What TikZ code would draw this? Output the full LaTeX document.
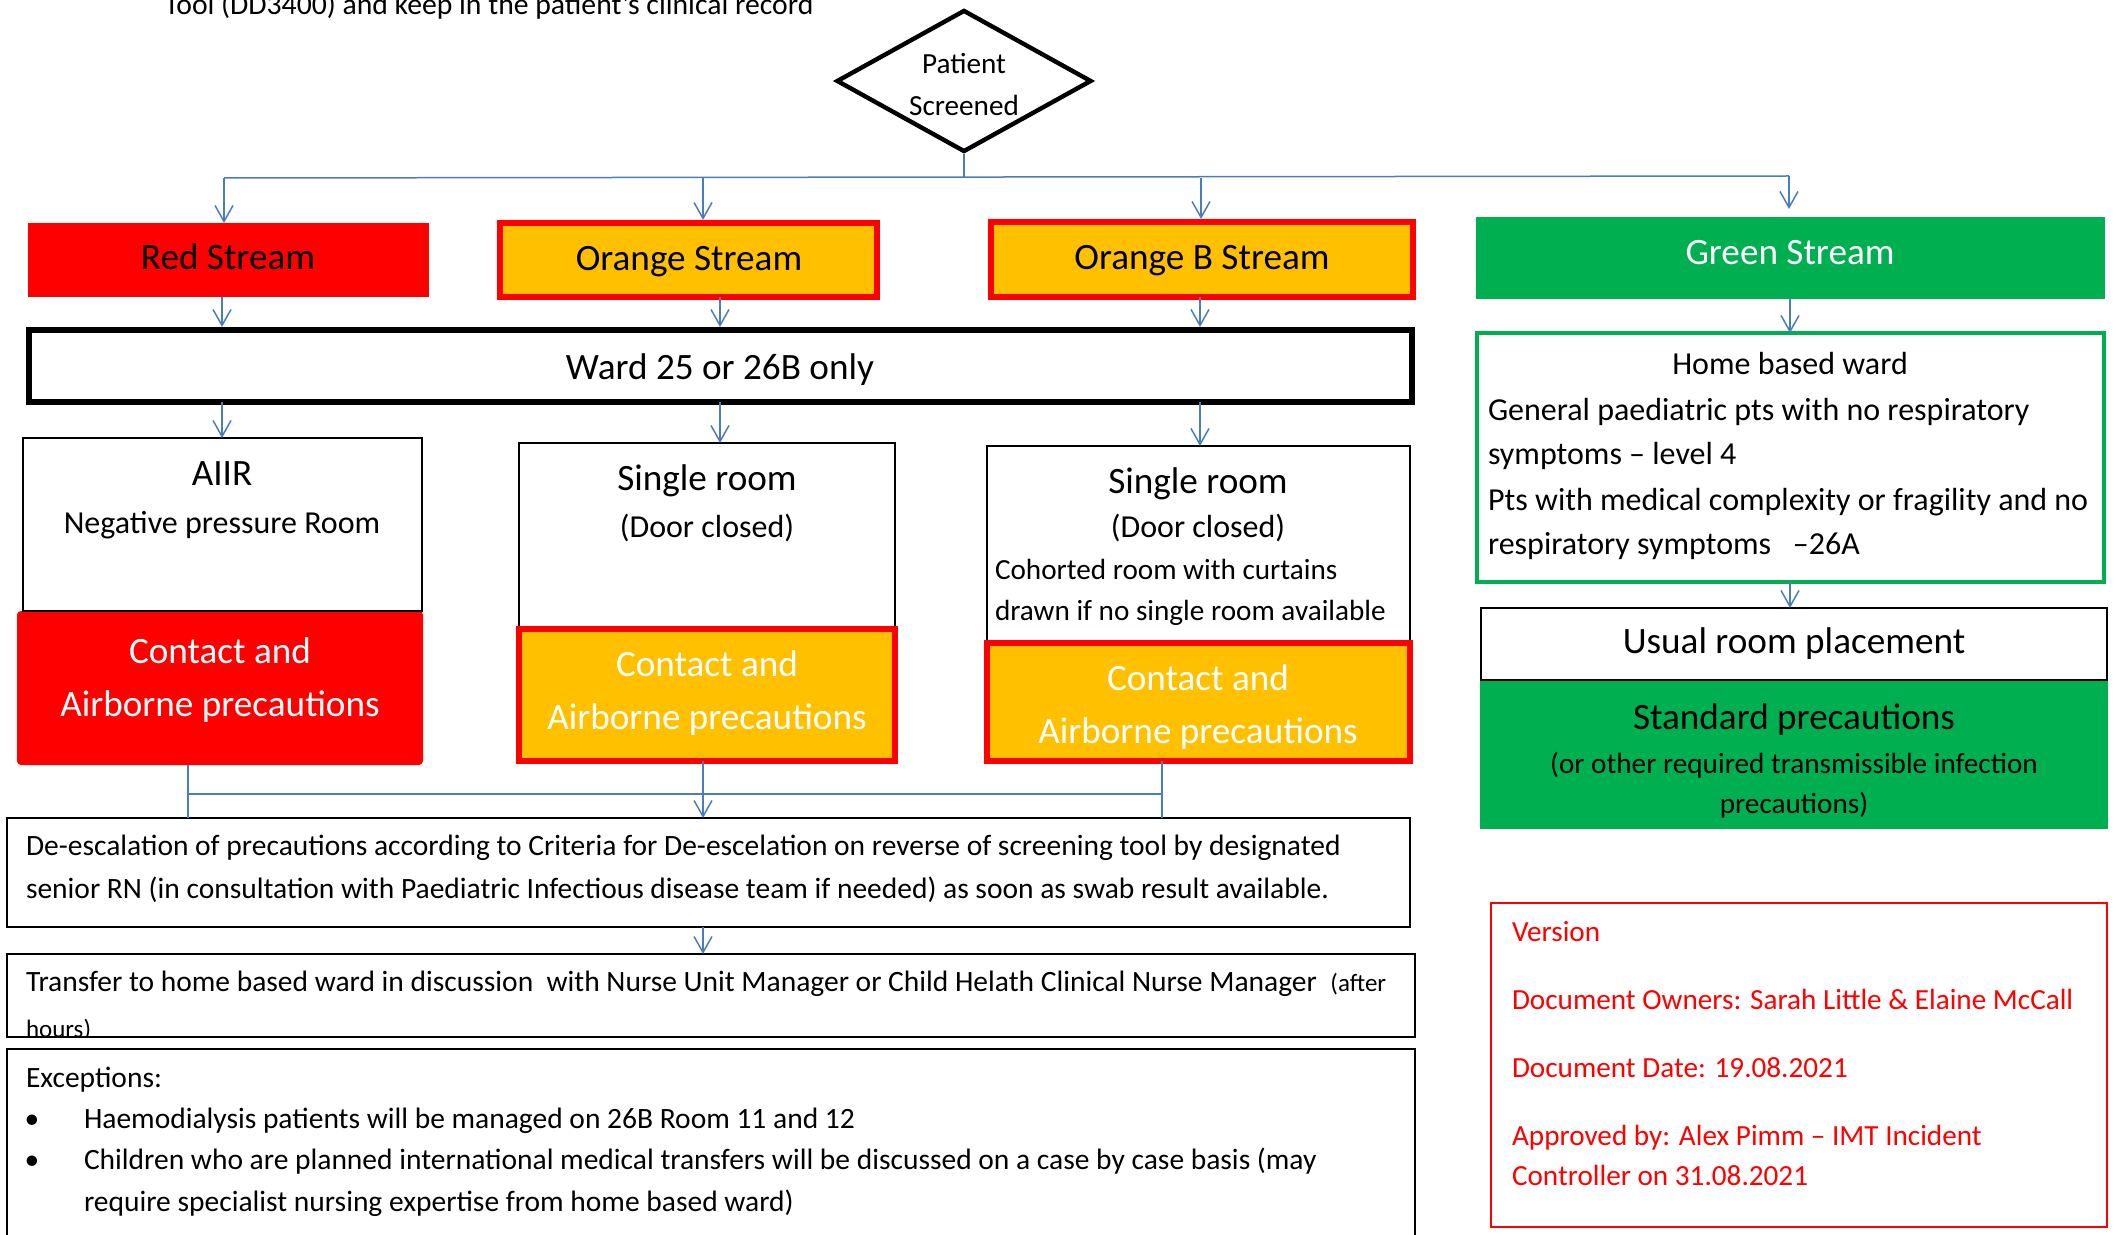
\documentclass[tikz,border=0pt]{standalone}
\usepackage{fontspec}
\setmainfont{Carlito}
\usetikzlibrary{arrows.meta,fit,shapes.geometric}
\definecolor{ored}{HTML}{FF0000}
\definecolor{oorange}{HTML}{FFC000}
\definecolor{ogreen}{HTML}{00B050}
\definecolor{lblue}{HTML}{4A7EBB}
\newcommand\fsL{\fontsize{18.6pt}{22pt}\selectfont}
\newcommand\fsM{\fontsize{16pt}{19pt}\selectfont}
\newcommand\fsS{\fontsize{14.6pt}{17.5pt}\selectfont}
\newcommand\fsW{\fontsize{14.75pt}{17.5pt}\selectfont}
\newcommand\fsT{\fontsize{12.5pt}{15pt}\selectfont}
\begin{document}
\begin{tikzpicture}[x=0.5pt,y=-0.5pt,
  box/.style={rectangle,inner sep=0pt,outer sep=0pt},
  ln/.style={draw=lblue,line width=0.75pt},
  arr/.style={ln,-{Straight Barb[length=8pt,width=9pt]}},
  tc/.style={inner sep=0pt,outer sep=0pt,anchor=base},
  tl/.style={inner sep=0pt,outer sep=0pt,anchor=base west},
  thinbox/.style={box,draw=black,line width=1.2pt},
  orbox/.style={box,fill=oorange,draw=ored,line width=3pt}]
\useasboundingbox (0,0) rectangle (2120,1235);
\fill[white] (0,0) rectangle (2120,1235);

% top text (cut at the top edge, as in the reference)
\node[tc,font=\fontsize{14.85pt}{17.5pt}\selectfont] (tTop) at (489,15) {Tool (DD3400) and keep in the patient’s clinical record};

% diamond
\node[diamond,draw=black,line width=2.2pt,inner sep=0pt,minimum width=127.5pt,minimum height=71pt] (diam) at (964,81) {};
\node[tc,font=\fsS] (tPat) at (964,74) {Patient};
\node[tc,font=\fsS] (tScr) at (964,116) {Screened};

% stream boxes
\node[box,fill=ored,fit={(28,223) (429,297)}] (redS) {};
\node[orbox,fit={(500,223) (877,297)}] (orS) {};
\node[orbox,fit={(991,222) (1413,297)}] (orB) {};
\node[box,fill=ogreen,fit={(1476,217) (2105,299)}] (grS) {};
\node[tc,font=\fsL] (tRedS) at (228,270) {Red Stream};
\node[tc,font=\fsL] (tOrS) at (689,271) {Orange Stream};
\node[tc,font=\fsL] (tOrB) at (1202,270) {Orange B Stream};
\node[tc,font=\fsL,text=white] (tGrS) at (1790,265) {Green Stream};

% ward
\node[box,draw=black,line width=3pt,fit={(29,330) (1412,402)}] (ward) {};
\node[tc,font=\fsL] (tWard) at (720,380) {Ward 25 or 26B only};

% red column
\node[box,fill=ored,rounded corners=2pt,fit={(17,611) (423,765)}] (redC) {};
\node[thinbox,line width=1.3pt,fit={(23,438) (422,611)}] (aiir) {};
\node[tc,font=\fsL] (tAiir) at (222,486) {AIIR};
\node[tc,font=\fsM] (tNeg) at (222,533) {Negative pressure Room};
\node[tc,font=\fsL,text=white] (tRc1) at (220,663) {Contact and};
\node[tc,font=\fsL,text=white] (tRc2) at (220,716) {Airborne precautions};

% orange column
\node[thinbox,fit={(519,443) (895,627)}] (sgl1) {};
\node[orbox,fit={(519,629) (895,761)}] (orC) {};
\node[tc,font=\fsL] (tSg1) at (707,490) {Single room};
\node[tc,font=\fsM] (tDc1) at (707,537) {(Door closed)};
\node[tc,font=\fsL,text=white] (tOc1) at (707,676) {Contact and};
\node[tc,font=\fsL,text=white] (tOc2) at (707,729) {Airborne precautions};

% orange B column
\node[thinbox,fit={(987,446) (1410,641)}] (sgl2) {};
\node[orbox,fit={(987,643) (1410,761)}] (obC) {};
\node[tc,font=\fsL] (tSg2) at (1198,494) {Single room};
\node[tc,font=\fsM] (tDc2) at (1198,538) {(Door closed)};
\node[tl,font=\fsS] (tCo1) at (995,579) {Cohorted room with curtains};
\node[tl,font=\fsS] (tCo2) at (995,620) {drawn if no single room available};
\node[tc,font=\fsL,text=white] (tBc1) at (1198,690) {Contact and};
\node[tc,font=\fsL,text=white] (tBc2) at (1198,743) {Airborne precautions};

% lower boxes
\node[thinbox,fit={(7,818) (1410,927)}] (deesc) {};
\node[tl,font=\fsW] (tDe1) at (26,855) {De-escalation of precautions according to Criteria for De-escelation on reverse of screening tool by designated};
\node[tl,font=\fsW] (tDe2) at (26,898) {senior RN (in consultation with Paediatric Infectious disease team if needed) as soon as swab result available.};

\node[thinbox,fit={(7,954) (1415,1037)}] (trans) {};
\begin{scope}
\clip (26,954) rectangle (1410,1035);
\node[tl,font=\fsW] (tTr1) at (26,991) {Transfer to home based ward in discussion\ \ with Nurse Unit Manager or Child Helath Clinical Nurse Manager\ \ {\fsT(after}};
\node[tl,font=\fsT] (tTr2) at (26,1037) {hours)};
\end{scope}

\node[thinbox,fit={(7,1049) (1415,1260)}] (exc) {};
\node[tl,font=\fsW] (tEx) at (26,1087) {Exceptions:};
\node[tc,font=\fsW] (tB1) at (32,1128) {•};
\node[tl,font=\fsW] (tE1) at (84,1128) {Haemodialysis patients will be managed on 26B Room 11 and 12};
\node[tc,font=\fsW] (tB2) at (32,1169) {•};
\node[tl,font=\fsW] (tE2) at (84,1169) {Children who are planned international medical transfers will be discussed on a case by case basis (may};
\node[tl,font=\fsW] (tE3) at (84,1211) {require specialist nursing expertise from home based ward)};

% green column
\node[box,draw=ogreen,line width=2.2pt,fit={(1477,333) (2104,582)}] (home) {};
\node[tc,font=\fsM] (tHome) at (1790,375) {Home based ward};
\node[tl,font=\fsM] (tH1) at (1488,421) {General paediatric pts with no respiratory};
\node[tl,font=\fsM] (tH2) at (1488,465) {symptoms – level 4};
\node[tl,font=\fsM] (tH3) at (1488,510) {Pts with medical complexity or fragility and no};
\node[tl,font=\fsM] (tH4) at (1488,554) {respiratory symptoms\ \ \ –26A};

\node[box,fill=ogreen,fit={(1480,680) (2108,829)}] (stdp) {};
\node[thinbox,line width=1.3pt,fit={(1481,608) (2107,680)}] (usual) {};
\node[tc,font=\fsL] (tUs) at (1794,653) {Usual room placement};
\node[tc,font=\fsL] (tSt1) at (1794,729) {Standard precautions};
\node[tc,font=\fsS] (tSt2) at (1794,773) {(or other required transmissible infection};
\node[tc,font=\fsS] (tSt3) at (1794,813) {precautions)};

% version box
\node[box,draw=ored,line width=1pt,fit={(1491,903) (2107,1227)}] (ver) {};
\begin{scope}[every node/.style={tl,font=\fsS,text=ored}]
\node (tV1) at (1512,941) {Version};
\node (tV2) at (1512,1009) {Document Owners: Sarah Little \& Elaine McCall};
\node (tV3) at (1512,1077) {Document Date: 19.08.2021};
\node (tV4) at (1512,1145) {Approved by: Alex Pimm – IMT Incident};
\node (tV5) at (1512,1185) {Controller on 31.08.2021};
\end{scope}

% connectors
\coordinate (j0) at (964,178);
\coordinate (jL) at (224,178);
\coordinate (jR) at (1789,176);
\coordinate (cO) at (703,178);
\coordinate (cB) at (1201,178);
\draw[ln] (diam.south) -- (j0);
\draw[ln] (jL) -- (jR);
\draw[arr] (jL) -- (redS.north -| jL);
\draw[arr,shorten >=1.5pt] (cO) -- (orS.north -| cO);
\draw[arr,shorten >=1.5pt] (cB) -- (orB.north -| cB);
\draw[arr,shorten >=4pt] (jR) -- (grS.north -| jR);

\coordinate (mR) at (222,300);
\coordinate (mO) at (720,300);
\coordinate (mB) at (1200,300);
\draw[arr,shorten >=1.5pt] (redS.south -| mR) -- (ward.north -| mR);
\draw[arr,shorten >=1.5pt] (orS.south -| mO) -- (ward.north -| mO);
\draw[arr,shorten >=1.5pt] (orB.south -| mB) -- (ward.north -| mB);
\draw[arr] (ward.south -| mR) -- (aiir.north -| mR);
\draw[arr] (ward.south -| mO) -- (sgl1.north -| mO);
\draw[arr] (ward.south -| mB) -- (sgl2.north -| mB);

\coordinate (gC) at (1790,300);
\draw[arr] (grS.south -| gC) -- (home.north -| gC);
\draw[arr] (home.south -| gC) -- (usual.north -| gC);

\coordinate (hL) at (188,794);
\coordinate (hM) at (703,794);
\coordinate (hR) at (1162,794);
\draw[ln] (redC.south -| hL) -- (deesc.north -| hL);
\draw[ln] (obC.south -| hR) -- (deesc.north -| hR);
\draw[ln] (hL) -- (hR);
\draw[arr] (orC.south -| hM) -- (deesc.north -| hM);
\draw[arr] (deesc.south -| hM) -- (trans.north -| hM);
\end{tikzpicture}
\end{document}
